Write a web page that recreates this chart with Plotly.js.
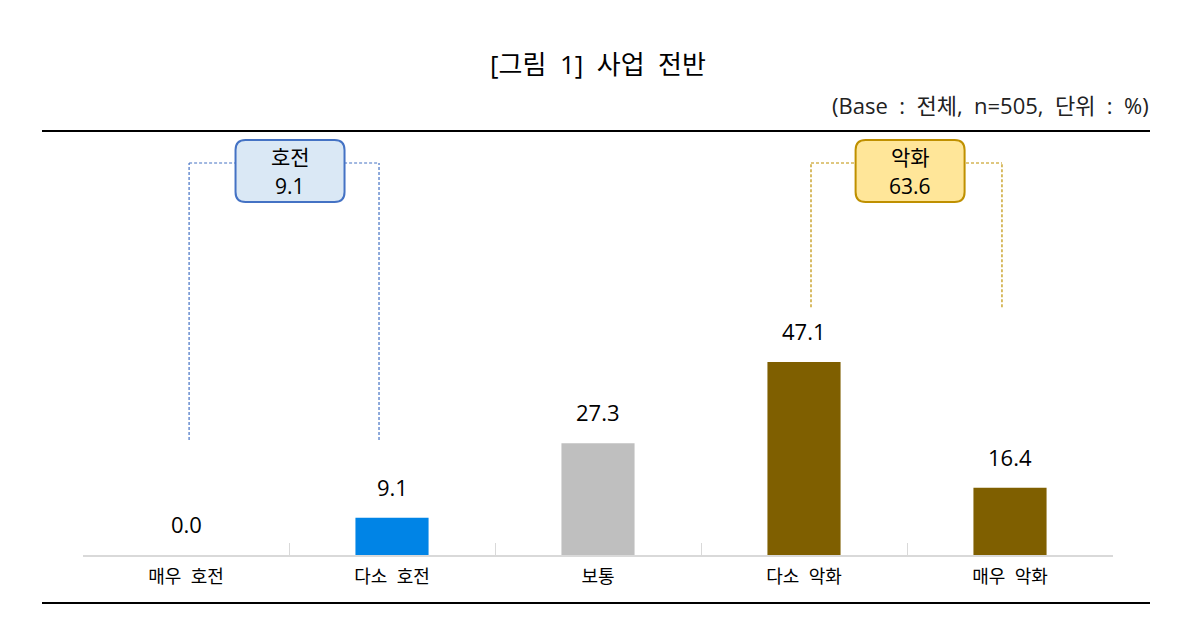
<!DOCTYPE html>
<html><head><meta charset="utf-8">
<script src="https://cdn.plot.ly/plotly-3.0.1.min.js"></script>
<style>body{margin:0;background:#fff}#c{width:1200px;height:644px}</style>
</head><body><div id="c"></div>
<script>
const categories = ['매우 호전', '다소 호전', '보통', '다소 악화', '매우 악화'];
const values = [0.0, 9.1, 27.3, 47.1, 16.4];
const barColors = ['#0084e6', '#0084e6', '#bfbfbf', '#7f5f00', '#7f5f00'];
const groupLabels = ['호전', '악화'];
const groupValues = [9.1, 63.6];

const FONT = '"Open Sans", "Noto Sans CJK KR", sans-serif';
const YMAX = 103.5;
const sp = s => s.replace(/ /g, '&nbsp; ');

const trace = {
  type: 'bar', x: categories, y: values,
  marker: {color: barColors, line: {width: 0}},
  width: 0.355, hoverinfo: 'skip'
};

const annotations = categories.map((c, i) => ({
  x: c, y: values[i], xref: 'x', yref: 'y',
  text: values[i].toFixed(1), showarrow: false,
  yanchor: 'bottom', yshift: 14,
  font: {family: FONT, size: 22, color: '#000'}
}));

annotations.push({
  xref: 'paper', yref: 'paper', x: 1.0369, y: 1.061, xanchor: 'right', yanchor: 'middle',
  text: '(Base&nbsp; :&nbsp; 전체,&nbsp; n=505,&nbsp; 단위&nbsp; :&nbsp; %)', showarrow: false,
  font: {family: FONT, size: 22, color: '#222'}
});

const groups = [
  {x0: 0.015, x1: 0.937, bottom: 28.1, cx: 0.505, color: '#4472c4', fill: '#dae8f5', label: groupLabels[0], val: groupValues[0]},
  {x0: 3.034, x1: 3.961, bottom: 60.5, cx: 3.515, color: '#bf9000', fill: '#ffe699', label: groupLabels[1], val: groupValues[1]}
];
const toY = p => (555 - p) / 424 * YMAX;
const topY = toY(163);
const boxY = toY(171);
const shapes = [];
groups.forEach(g => {
  const ln = {color: g.color, width: 1.2, dash: '3px,2px'};
  shapes.push({type: 'line', xref: 'x', yref: 'y', x0: g.x0, x1: g.x0, y0: g.bottom, y1: topY, line: ln});
  shapes.push({type: 'line', xref: 'x', yref: 'y', x0: g.x1, x1: g.x1, y0: g.bottom, y1: topY, line: ln});
  shapes.push({type: 'line', xref: 'x', yref: 'y', x0: g.x0, x1: g.x1, y0: topY, y1: topY, line: ln});
  const w = 54.5, h = 31, r = 10;
  const p = `M ${-w + r} ${-h} L ${w - r} ${-h} Q ${w} ${-h} ${w} ${-h + r} L ${w} ${h - r} Q ${w} ${h} ${w - r} ${h} L ${-w + r} ${h} Q ${-w} ${h} ${-w} ${h - r} L ${-w} ${-h + r} Q ${-w} ${-h} ${-w + r} ${-h} Z`;
  shapes.push({type: 'path', xref: 'x', yref: 'y', xsizemode: 'pixel', ysizemode: 'pixel',
    xanchor: g.cx, yanchor: boxY, path: p, fillcolor: g.fill, line: {color: g.color, width: 2}, layer: 'above'});
  annotations.push({xref: 'x', yref: 'y', x: g.cx, y: toY(157), text: g.label,
    showarrow: false, font: {family: FONT, size: 21, color: '#000'}, yanchor: 'middle'});
  annotations.push({xref: 'x', yref: 'y', x: g.cx, y: toY(186), text: g.val.toFixed(1),
    showarrow: false, font: {family: FONT, size: 21, color: '#000'}, yanchor: 'middle'});
});

const px = v => (v - 83) / 1030, py = v => (555 - v) / 424;
shapes.push({type: 'line', xref: 'paper', yref: 'paper', x0: px(42), x1: px(1150), y0: py(131), y1: py(131), line: {color: '#000', width: 2}});
shapes.push({type: 'line', xref: 'paper', yref: 'paper', x0: px(42), x1: px(1150), y0: py(603), y1: py(603), line: {color: '#000', width: 2}});

const layout = {
  width: 1200, height: 644,
  margin: {l: 83, r: 87, t: 131, b: 89},
  paper_bgcolor: '#fff', plot_bgcolor: '#fff',
  showlegend: false,
  title: {text: '[그림&nbsp; 1]&nbsp; 사업&nbsp; 전반', x: 0.5, xref: 'paper', y: 1 - 65 / 644, yanchor: 'middle',
    font: {family: FONT, size: 26, color: '#000'}},
  xaxis: {type: 'category', showline: true, linecolor: '#d9d9d9', linewidth: 1.5,
    ticks: 'inside', tickson: 'boundaries', ticklen: 12, tickcolor: '#d9d9d9', tickwidth: 1,
    ticklabelstandoff: 5,
    tickvals: categories, ticktext: categories.map(sp),
    tickfont: {family: FONT, size: 18, color: '#000'}, showgrid: false, zeroline: false, fixedrange: true},
  yaxis: {range: [0, YMAX], visible: false, showgrid: false, zeroline: false, fixedrange: true},
  shapes: shapes, annotations: annotations
};
Plotly.newPlot('c', [trace], layout, {displayModeBar: false, staticPlot: true});
</script></body></html>
